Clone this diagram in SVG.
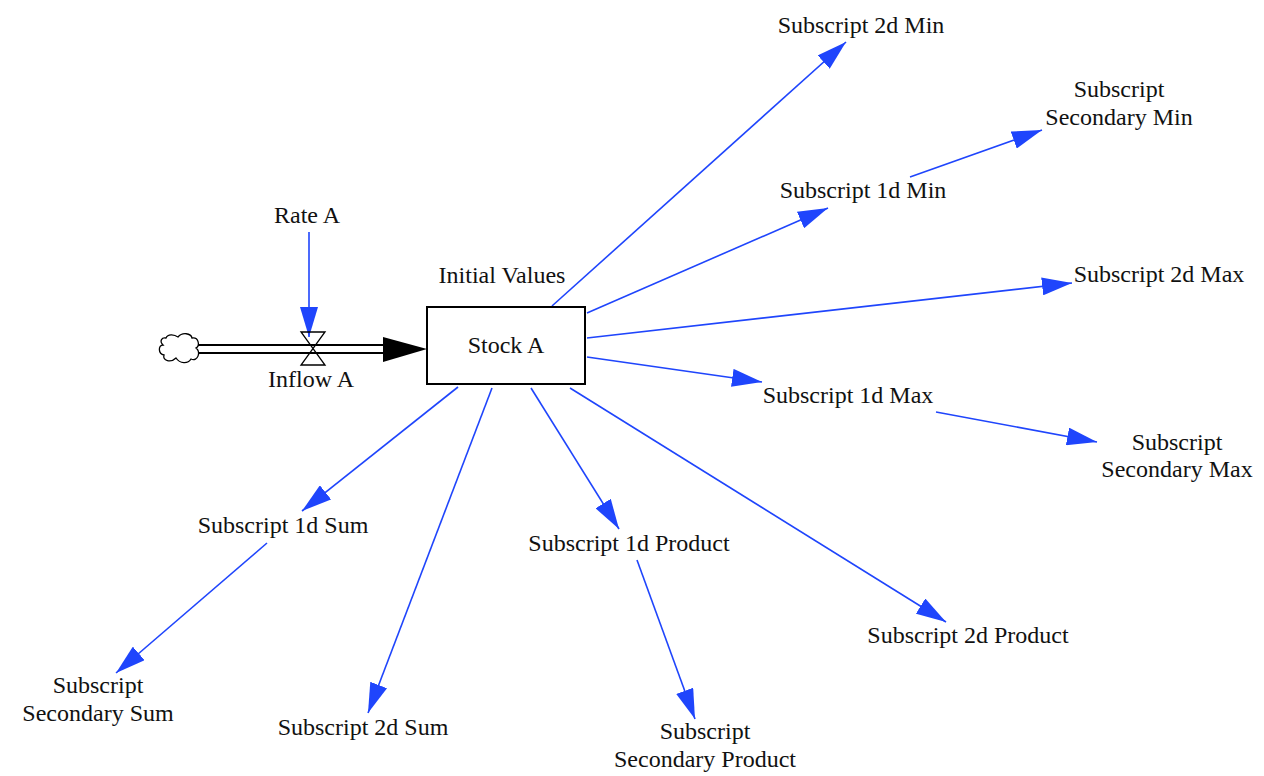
<svg xmlns="http://www.w3.org/2000/svg" width="1264" height="776" viewBox="0 0 1264 776">
<defs>
<style>
text{font-family:"Liberation Serif","Times New Roman",serif;font-size:24px;fill:#111;text-anchor:middle}
.lk{stroke:#1f45fc;stroke-width:1.6;fill:none;marker-end:url(#ah)}
</style>
<marker id="ah" viewBox="0 0 30 18" markerWidth="30" markerHeight="18" refX="30" refY="9" orient="auto" markerUnits="userSpaceOnUse">
<path d="M0,0 L30,9 L0,18 Z" fill="#1f45fc"/>
</marker>
</defs>
<rect width="1264" height="776" fill="#fff"/>
<g id="connectors">
<line class="lk" x1="309" y1="232" x2="309" y2="337"/>
<line class="lk" x1="552" y1="306" x2="846" y2="42"/>
<line class="lk" x1="587" y1="313" x2="828" y2="208"/>
<line class="lk" x1="910" y1="177" x2="1042" y2="130"/>
<line class="lk" x1="587" y1="338" x2="1072" y2="283"/>
<line class="lk" x1="587" y1="357" x2="762" y2="382"/>
<line class="lk" x1="936" y1="412" x2="1097" y2="442"/>
<line class="lk" x1="458" y1="387" x2="302" y2="511"/>
<line class="lk" x1="267" y1="543" x2="116" y2="673"/>
<line class="lk" x1="492" y1="388" x2="368" y2="713"/>
<line class="lk" x1="531" y1="388" x2="619" y2="529"/>
<line class="lk" x1="637" y1="560" x2="695" y2="719"/>
<line class="lk" x1="570" y1="388" x2="946" y2="622"/>
</g>
<g id="flow">
<path d="M166,338 C168,333 175,335 178,337 C182,332 191,333 192,338 C199,337 200,346 196,348 C201,352 198,362 191,359 C188,364 180,364 176,358 C171,363 162,361 164,355 C158,354 158,345 163,345 C159,341 162,337 166,338 Z" fill="#fff" stroke="#000" stroke-width="1.3"/>
<line x1="198" y1="345" x2="385" y2="345" stroke="#000" stroke-width="2"/>
<line x1="198" y1="353" x2="385" y2="353" stroke="#000" stroke-width="2"/>
<polygon points="383,337 427,349 383,362" fill="#000"/>
<path d="M301,332 L325,332 L301,365 L325,365 Z" fill="none" stroke="#000" stroke-width="1.3"/>
<text x="311" y="387">Inflow A</text>
</g>
<g id="rate-a"><text x="307" y="223">Rate A</text></g>
<g id="stock-a">
<rect x="427" y="307" width="158" height="77" fill="#fff" stroke="#000" stroke-width="2"/>
<text x="506" y="353">Stock A</text>
</g>
<g id="initial-values"><text x="502" y="283">Initial Values</text></g>
<g id="sub-2d-min"><text x="861" y="33">Subscript 2d Min</text></g>
<g id="sub-sec-min"><text x="1119" y="97">Subscript</text><text x="1119" y="125">Secondary Min</text></g>
<g id="sub-1d-min"><text x="863" y="198">Subscript 1d Min</text></g>
<g id="sub-2d-max"><text x="1159" y="282">Subscript 2d Max</text></g>
<g id="sub-1d-max"><text x="848" y="403">Subscript 1d Max</text></g>
<g id="sub-sec-max"><text x="1177" y="450">Subscript</text><text x="1177" y="477">Secondary Max</text></g>
<g id="sub-1d-sum"><text x="283" y="533">Subscript 1d Sum</text></g>
<g id="sub-sec-sum"><text x="98" y="693">Subscript</text><text x="98" y="721">Secondary Sum</text></g>
<g id="sub-2d-sum"><text x="363" y="735">Subscript 2d Sum</text></g>
<g id="sub-1d-product"><text x="629" y="551">Subscript 1d Product</text></g>
<g id="sub-sec-product"><text x="705" y="739">Subscript</text><text x="705" y="767">Secondary Product</text></g>
<g id="sub-2d-product"><text x="968" y="643">Subscript 2d Product</text></g>
</svg>
